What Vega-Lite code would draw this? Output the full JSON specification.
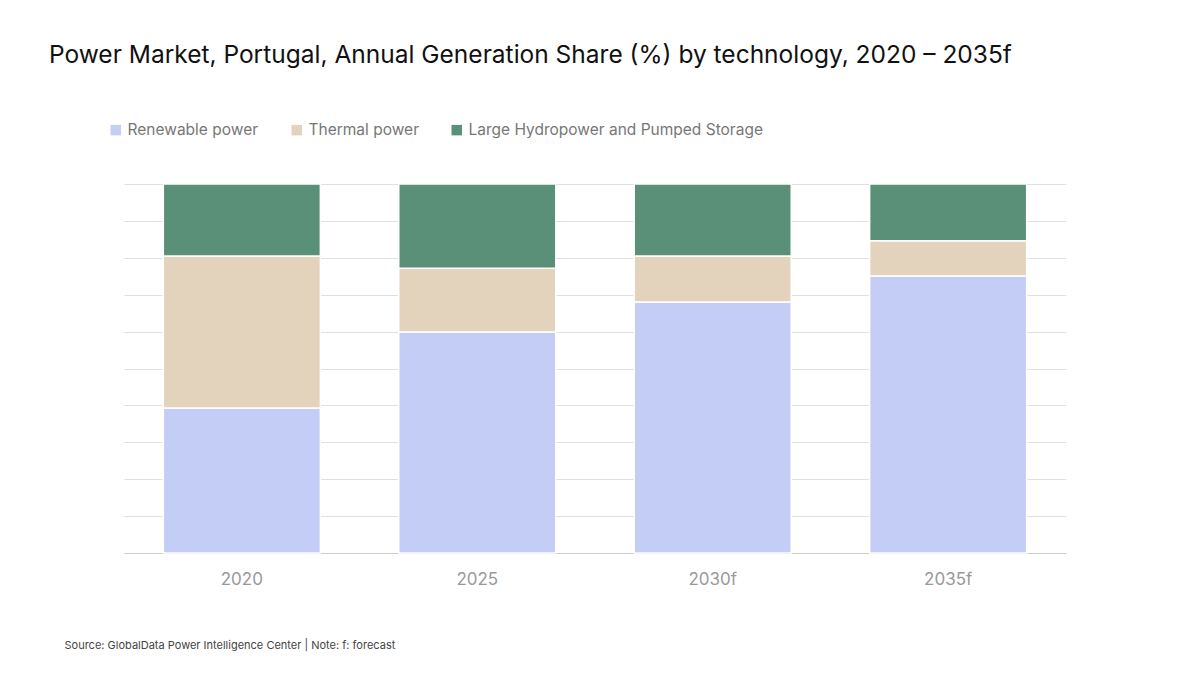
{
  "$schema": "https://vega.github.io/schema/vega-lite/v6.json",
  "width": 942,
  "height": 369,
  "padding": {"left": 124, "top": 184, "right": 134, "bottom": 122},
  "autosize": "none",
  "background": "white",
  "title": {
    "text": "Power Market, Portugal, Annual Generation Share (%) by technology, 2020 – 2035f",
    "anchor": "start",
    "dx": -15,
    "offset": 54,
    "fontSize": 24.5,
    "fontWeight": "normal",
    "font": "Inter",
    "color": "#111"
  },
  "data": {
    "values": [
      {"year": "2020", "tech": "Renewable power", "o": 1, "share": 39.3},
      {"year": "2020", "tech": "Thermal power", "o": 2, "share": 41.2},
      {"year": "2020", "tech": "Large Hydropower and Pumped Storage", "o": 3, "share": 19.5},
      {"year": "2025", "tech": "Renewable power", "o": 1, "share": 59.9},
      {"year": "2025", "tech": "Thermal power", "o": 2, "share": 17.3},
      {"year": "2025", "tech": "Large Hydropower and Pumped Storage", "o": 3, "share": 22.8},
      {"year": "2030f", "tech": "Renewable power", "o": 1, "share": 68.0},
      {"year": "2030f", "tech": "Thermal power", "o": 2, "share": 12.5},
      {"year": "2030f", "tech": "Large Hydropower and Pumped Storage", "o": 3, "share": 19.5},
      {"year": "2035f", "tech": "Renewable power", "o": 1, "share": 75.1},
      {"year": "2035f", "tech": "Thermal power", "o": 2, "share": 9.5},
      {"year": "2035f", "tech": "Large Hydropower and Pumped Storage", "o": 3, "share": 15.4}
    ]
  },
  "mark": {"type": "bar", "stroke": "white", "strokeWidth": 1.5},
  "encoding": {
    "x": {
      "field": "year",
      "type": "nominal",
      "scale": {"paddingInner": 0.333, "paddingOuter": 0.167},
      "axis": {
        "labelAngle": 0,
        "labelFontSize": 17,
        "labelColor": "#999",
        "labelFont": "Inter",
        "labelPadding": 18,
        "ticks": false,
        "domainColor": "#ccc",
        "title": "Source: GlobalData Power Intelligence Center | Note: f: forecast",
        "titleAnchor": "start",
        "titleAlign": "left",
        "titleX": -60,
        "titleY": 86,
        "titleFontSize": 11,
        "titleFontWeight": "normal",
        "titleColor": "#444",
        "titleFont": "Inter"
      }
    },
    "y": {
      "field": "share",
      "type": "quantitative",
      "stack": "zero",
      "scale": {"domain": [0, 100]},
      "axis": {
        "title": null,
        "labels": false,
        "ticks": false,
        "domain": false,
        "tickCount": 10,
        "gridColor": "#e0e0e0"
      }
    },
    "color": {
      "field": "tech",
      "type": "nominal",
      "sort": ["Renewable power", "Thermal power", "Large Hydropower and Pumped Storage"],
      "scale": {
        "domain": ["Renewable power", "Thermal power", "Large Hydropower and Pumped Storage"],
        "range": ["#c3cdf5", "#e3d3bc", "#5a8f78"]
      },
      "legend": {
        "orient": "none",
        "legendX": -16,
        "legendY": -62,
        "direction": "horizontal",
        "title": null,
        "symbolType": "square",
        "symbolSize": 110,
        "symbolStrokeWidth": 0,
        "labelFontSize": 15.5,
        "labelLimit": 0,
        "labelColor": "#777",
        "labelFont": "Inter",
        "columnPadding": 30
      }
    },
    "order": {"field": "o"}
  },
  "config": {"view": {"stroke": null}}
}
